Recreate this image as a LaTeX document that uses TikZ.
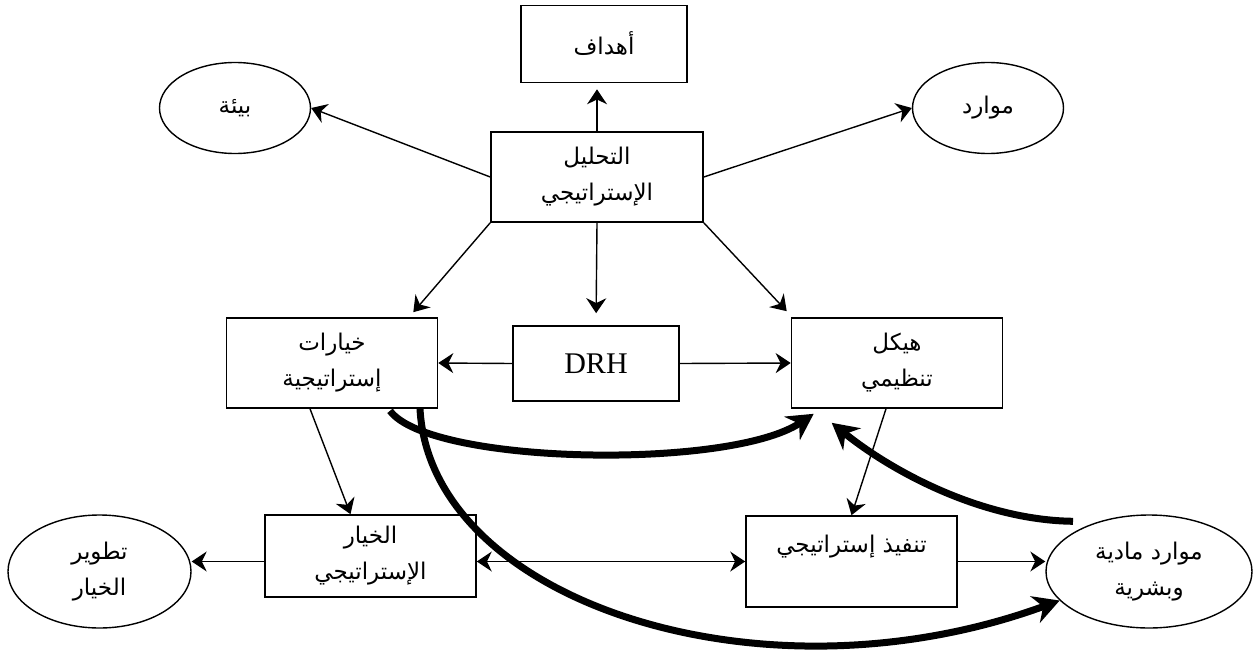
\documentclass[tikz,border=0pt]{standalone}
\usepackage{fontspec}
\setmainfont{Liberation Serif}
\newfontfamily\arabicfont[Script=Arabic]{DejaVu Sans}
\TeXXeTstate=1
\usetikzlibrary{arrows.meta, shapes.geometric}
\newcommand{\artext}[1]{\beginR #1\endR}

\begin{document}
\begin{tikzpicture}[
    x=1pt, y=-1pt,
    every node/.style={font=\arabicfont\fontsize{23}{36}\selectfont, align=center, inner sep=0pt},
    box/.style={draw, line width=1.6pt, minimum width=211pt, minimum height=90pt},
    oval/.style={draw, ellipse, line width=1.4pt},
    arr/.style={-{Stealth[length=15pt, width=20pt]}, line width=1.4pt},
    darr/.style={{Stealth[length=15pt, width=20pt]}-{Stealth[length=15pt, width=20pt]}, line width=1.4pt},
    bigarr/.style={-{Stealth[length=26pt, width=28pt]}, line width=7pt},
  ]
  \useasboundingbox (0,0) rectangle (1255,661);

  \node[box, minimum width=166pt, minimum height=77pt] (goals) at (604,44) {\artext{أهداف}};
  \node[box, minimum width=212pt] (analysis) at (597,177) {\artext{التحليل}\\ \artext{الإستراتيجي}};
  \node[oval, minimum width=151pt, minimum height=91pt] (env) at (235,108) {\artext{بيئة}};
  \node[oval, minimum width=151pt, minimum height=91pt] (res) at (988,108) {\artext{موارد}};

  \node[box] (options) at (332,363) {\artext{خيارات}\\ \artext{إستراتيجية}};
  \node[box, minimum width=166pt, minimum height=75pt, font=\fontsize{30}{36}\selectfont] (drh) at (596,363.5) {DRH};
  \node[box] (structure) at (897,363) {\artext{هيكل}\\ \artext{تنظيمي}};

  \node[box, minimum height=82pt] (choice) at (370.5,556) {\artext{الخيار}\\ \artext{الإستراتيجي}};
  \node[oval, minimum width=183pt, minimum height=113pt] (develop) at (99.5,571.5) {\artext{تطوير}\\ \artext{الخيار}};
  \node[box, minimum height=91pt] (implement) at (851.5,561.5) {\artext{تنفيذ إستراتيجي}\\ \mbox{}};
  \node[oval, minimum width=206pt, minimum height=113pt] (means) at (1149,571.5) {\artext{موارد مادية}\\ \artext{وبشرية}};

  \draw[arr, shorten >=6pt] (analysis.north) -- (analysis.north |- goals.south);
  \draw[arr] (analysis.west) -- (env.east);
  \draw[arr] (analysis.east) -- (res.west);
  \draw[arr] (analysis.south west) -- ([xshift=-25pt, yshift=5pt]options.north east);
  \draw[arr, shorten >=12pt] (analysis.south) -- (drh.north);
  \draw[arr] (analysis.south east) -- ([xshift=-4pt, yshift=6pt]structure.north west);

  \draw[arr] (drh.west) -- (options.east);
  \draw[arr] (drh.east) -- (structure.west);
  \draw[arr] ([xshift=-22pt]options.south) -- ([xshift=-20pt]choice.north);
  \draw[arr] ([xshift=-11pt]structure.south) -- (implement.north);

  \draw[arr] (choice.west |- implement.west) -- (develop.east |- implement.west);
  \draw[darr] (choice.east |- implement.west) -- (implement.west);
  \draw[arr] (implement.east) -- (implement.east -| means.west);

  % thick links
  \draw[bigarr] ([xshift=58pt, yshift=-2pt]options.south) .. controls (430,465) and (730,470) .. ([xshift=23pt, yshift=-5pt]structure.south west);
  \draw[bigarr] ([xshift=-76pt, yshift=-7pt]means.north) .. controls (980,520) and (890,470) .. ([xshift=41pt, yshift=-14pt]structure.south west);
  \draw[bigarr] ([xshift=88pt]options.south) .. controls (430,600) and (760,710) .. (means.198);

\end{tikzpicture}
\end{document}
